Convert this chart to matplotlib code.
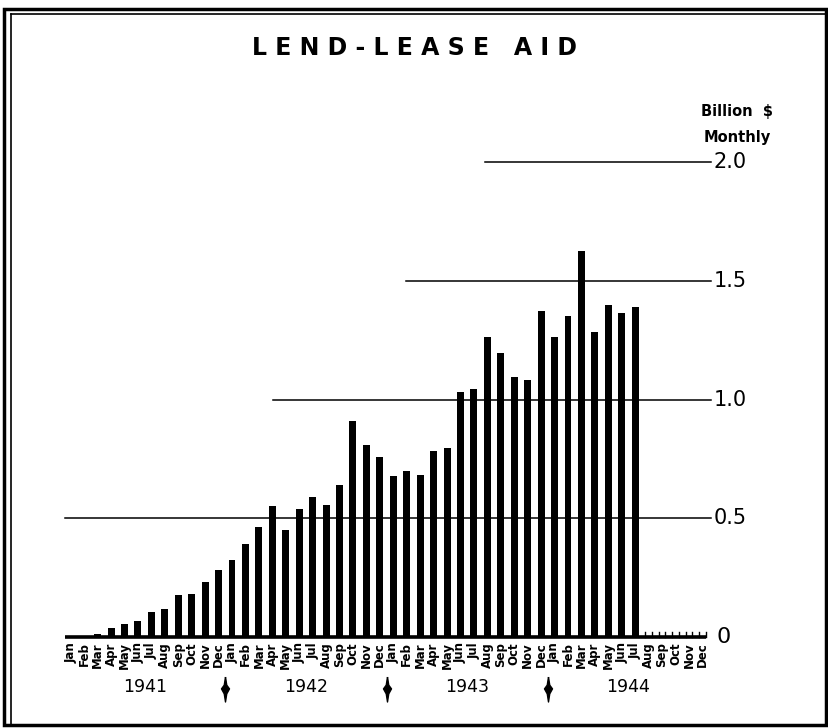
"""Lend-Lease aid, monthly, 1941-1944 (bar chart in the old lettering style)."""
import matplotlib
matplotlib.use("Agg")
import matplotlib.pyplot as plt
import numpy as np
from matplotlib.lines import Line2D
from matplotlib.patches import Rectangle

MONTHS = ["Jan", "Feb", "Mar", "Apr", "May", "Jun",
          "Jul", "Aug", "Sep", "Oct", "Nov", "Dec"]
YEARS = ["1941", "1942", "1943", "1944"]

# billion $ per month, Jan 1941 .. Jul 1944
AID = [0.0, 0.0, 0.012, 0.038, 0.054, 0.067, 0.106, 0.118, 0.178, 0.180, 0.231, 0.281,
       0.325, 0.393, 0.462, 0.552, 0.451, 0.540, 0.588, 0.556, 0.642, 0.910, 0.810, 0.758,
       0.679, 0.698, 0.682, 0.785, 0.795, 1.031, 1.046, 1.262, 1.195, 1.097, 1.082, 1.374,
       1.263, 1.350, 1.624, 1.284, 1.397, 1.366, 1.392]

GRID_VALUES = [0.5, 1.0, 1.5, 2.0]
GRID_STARTS = [-0.45, 15.05, 24.95, 30.8]     # month index where each rule begins
Y_LABELS = ["0.5", "1.0", "1.5", "2.0"]

W, H = 829, 728
fig = plt.figure(figsize=(W / 100, H / 100), dpi=100)
plt.rcParams["font.family"] = "DejaVu Sans"

# axes: pixel 64 <-> x=-0.5, 13.44 px per month; y 0 at pixel 637, 237.4 px per unit
x_right = (790 - 64) / 13.44 - 0.5
ax = fig.add_axes([64 / W, (H - 720) / H, (790 - 64) / W, (720 - 91) / H])
ax.set_xlim(-0.5, x_right)
ax.set_ylim(-0.35, 2.3)
ax.axis("off")

n_months = len(MONTHS) * len(YEARS)
x = np.arange(len(AID))
ax.bar(x, AID, width=0.52, color="black", zorder=3)

# baseline and ruling
ax.plot([-0.45, 47.3], [0, 0], color="black", lw=2.6, solid_capstyle="butt", zorder=4)
for v, x0 in zip(GRID_VALUES, GRID_STARTS):
    ax.plot([x0, 47.63], [v, v], color="black", lw=1.1, zorder=2)
for t in np.arange(42.75, 47.3, 0.5):
    ax.plot([t, t], [0, 0.022], color="black", lw=1.0, zorder=4)

# scale on the right
ax.text(48.05, 0, "0", fontsize=16, va="center", ha="left")
for v, lab in zip(GRID_VALUES, Y_LABELS):
    ax.text(47.85, v, lab, fontsize=15, va="center", ha="left")
ax.text(49.6, 2.215, "Billion  $", fontsize=10.5, fontweight="bold", ha="center", va="center")
ax.text(49.6, 2.105, "Monthly", fontsize=10.5, fontweight="bold", ha="center", va="center")

# month and year labels
for i in range(n_months):
    ax.text(i, -0.022, MONTHS[i % 12], rotation=90, fontsize=8.5, fontweight="bold",
            ha="center", va="top")
for k, yr in enumerate(YEARS):
    ax.text(12 * k + 5.5, -0.21, yr, fontsize=12.5, ha="center", va="center")

arrow = [(0, 1), (0.1, 0.35), (0.32, 0.05), (0.1, -0.35), (0, -1),
         (-0.1, -0.35), (-0.32, 0.05), (-0.1, 0.35), (0, 1)]
for k in range(1, len(YEARS)):
    ax.plot(12 * k - 0.5, -0.22, marker=arrow, markersize=18, color="black",
            linestyle="none")

fig.text(415 / W, 1 - 48 / H, "L E N D - L E A S E   A I D", fontsize=17,
         fontweight="bold", ha="center", va="center")

# double border
fig.patches.append(Rectangle((4 / W, 3 / H), 822 / W, 716 / H, transform=fig.transFigure,
                             fill=False, lw=2.5, edgecolor="black"))
fig.lines.append(Line2D([11 / W, 826 / W], [1 - 14 / H, 1 - 14 / H],
                        transform=fig.transFigure, color="black", lw=1.2))
fig.lines.append(Line2D([11 / W, 11 / W], [1 - 14 / H, 3 / H],
                        transform=fig.transFigure, color="black", lw=1.2))

fig.savefig("out.png", dpi=100)
